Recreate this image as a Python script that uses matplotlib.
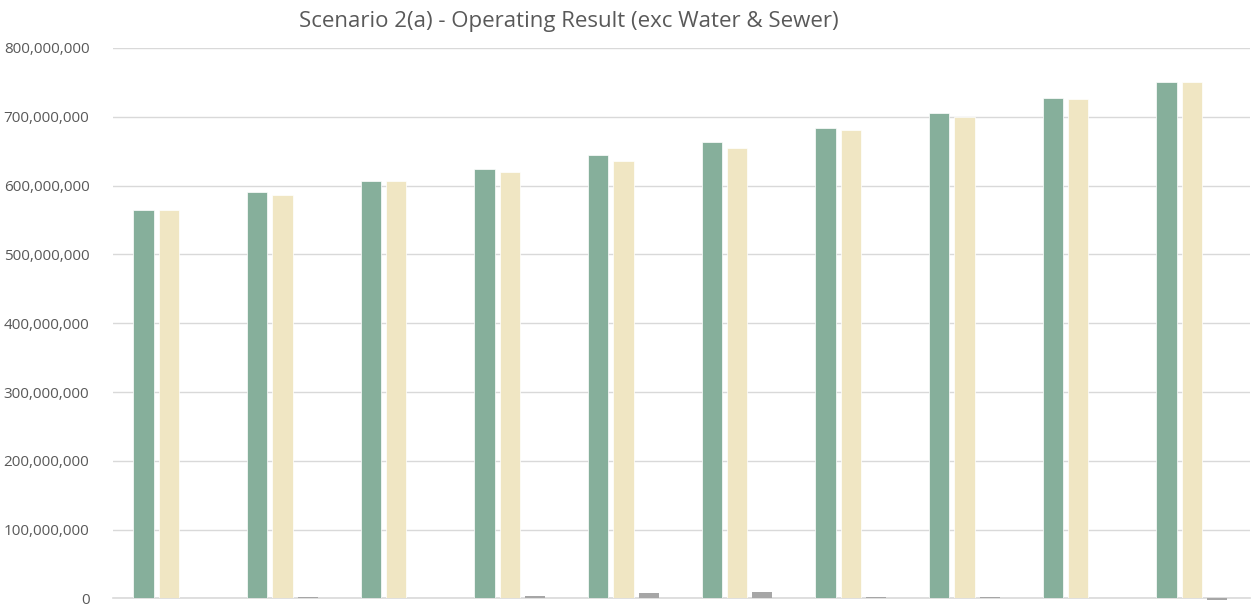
import matplotlib
matplotlib.use("Agg")
import matplotlib.pyplot as plt
import matplotlib.ticker as mticker
import numpy as np

# Datos (valores en unidades monetarias)
grupos = list(range(1, 11))
serie_verde = [565e6, 590e6, 607e6, 624e6, 645e6, 664e6, 684e6, 705e6, 728e6, 750e6]
serie_crema = [564e6, 587e6, 607e6, 620e6, 636e6, 654e6, 681e6, 700e6, 726e6, 751e6]
serie_gris = [0.5e6, 1.5e6, 0.5e6, 4e6, 8e6, 9.5e6, 2.5e6, 2.5e6, 0.5e6, -2e6]
ticks_y = [0, 100e6, 200e6, 300e6, 400e6, 500e6, 600e6, 700e6, 800e6]

plt.rcParams["font.family"] = ["Open Sans", "DejaVu Sans"]

fig = plt.figure(figsize=(12.56, 6.06), dpi=100)
ax = fig.add_axes([0.09, 0.0124, 0.905, 0.9084])

x = np.arange(len(grupos))
ancho = 0.178
sep = 0.222

ax.bar(x - sep - 0.01, serie_verde, ancho, color="#86AF9B", edgecolor="white", linewidth=0.5, zorder=3)
ax.bar(x - 0.01, serie_crema, ancho, color="#F0E6C3", edgecolor="white", linewidth=0.5, zorder=3)
ax.bar(x + sep - 0.01, serie_gris, ancho, color="#A6A6A6", linewidth=0, zorder=3, clip_on=False)

ax.set_xlim(-0.5, len(grupos) - 0.5)
ax.set_ylim(0, 800e6)
ax.set_yticks(ticks_y)
ax.yaxis.set_major_formatter(mticker.FuncFormatter(lambda v, p: f"{int(v):,}"))
ax.set_xticks([])

ax.grid(axis="y", color="#D9D9D9", linewidth=1, zorder=0)
for lado in ["top", "right", "left"]:
    ax.spines[lado].set_visible(False)
ax.spines["bottom"].set_color("#D9D9D9")
ax.spines["bottom"].set_linewidth(1.2)
ax.spines["bottom"].set_zorder(2)
ax.tick_params(axis="y", length=0, pad=17, labelsize=11, labelcolor="#595959")

fig.text(0.453, 0.965, "Scenario 2(a) - Operating Result (exc Water & Sewer)",
         ha="center", va="center", fontsize=16, color="#595959")

fig.savefig("out.png", dpi=100)
